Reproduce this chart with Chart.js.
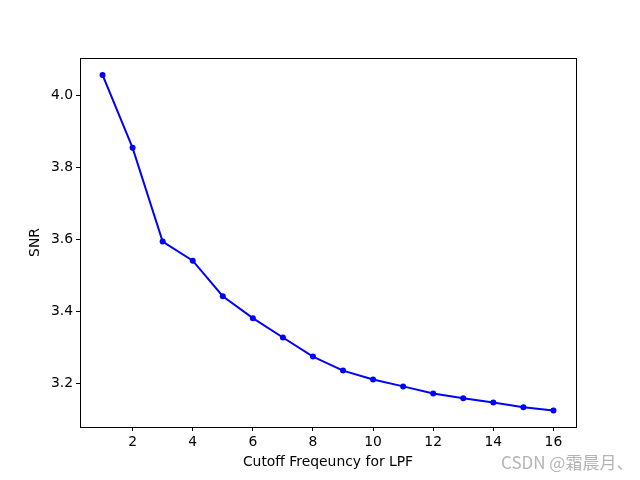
<!DOCTYPE html>
<html>
<head>
<meta charset="utf-8">
<script src="https://cdn.jsdelivr.net/npm/chart.js@4"></script>
<style>
  body { margin: 0; background: #fff; }
  #wrap { position: relative; width: 640px; height: 480px; }
  #mark { position: absolute; left: 501px; top: 449px; font: 17px "Noto Sans CJK SC", "DejaVu Sans", sans-serif; color: #b4b4b4; white-space: nowrap; }
</style>
</head>
<body>
<div id="wrap">
  <canvas id="snrChart" width="640" height="480"></canvas>
  <div id="mark">CSDN @霜晨月、</div>
</div>
<script>
  // cutoff frequency and SNR values
  const cutoff = [1, 2, 3, 4, 5, 6, 7, 8, 9, 10, 11, 12, 13, 14, 15, 16];
  const snr = [4.058, 3.855, 3.594, 3.541, 3.442, 3.381, 3.327, 3.274, 3.235, 3.210, 3.191, 3.171, 3.158, 3.146, 3.133, 3.124];
  const xTicks = [2, 4, 6, 8, 10, 12, 14, 16];
  const yTicks = [3.2, 3.4, 3.6, 3.8, 4.0];

  Chart.defaults.font.family = '"DejaVu Sans", sans-serif';
  Chart.defaults.font.size = 13.9;
  Chart.defaults.color = '#000';

  // matplotlib style box around the axes
  const frame = {
      id: 'frame',
      afterDraw(chart) {
          const a = chart.chartArea;
          const ctx = chart.ctx;
          ctx.save();
          ctx.strokeStyle = '#000';
          ctx.lineWidth = 1;
          ctx.strokeRect(Math.round(a.left) + 0.5, Math.round(a.top) + 0.5, Math.round(a.right - a.left), Math.round(a.bottom - a.top));
          ctx.restore();
      }
  };

  const ctx = document.getElementById('snrChart').getContext('2d');
  const snrChart = new Chart(ctx, {
      type: 'line',
      data: {
          datasets: [{
              label: 'SNR',
              data: cutoff.map((c, i) => ({ x: c, y: snr[i] })),
              borderColor: '#0000ff',
              backgroundColor: '#0000ff',
              borderWidth: 2,
              pointRadius: 3,
              pointBorderWidth: 0,
              tension: 0
          }]
      },
      options: {
          responsive: false,
          animation: false,
          layout: { padding: { left: 0, top: 58, right: 64, bottom: 0 } },
          plugins: { legend: { display: false }, tooltip: { enabled: false } },
          scales: {
              x: {
                  type: 'linear',
                  min: 0.25,
                  max: 16.75,
                  afterBuildTicks: s => { s.ticks = xTicks.map(v => ({ value: v })); },
                  afterFit: s => { s.height = 53; },
                  grid: { drawOnChartArea: false, color: '#000', tickLength: 4 },
                  border: { color: '#000' },
                  ticks: { padding: 3, maxRotation: 0 },
                  title: { display: true, text: 'Cutoff Freqeuncy for LPF', padding: { top: 0, bottom: 9 } }
              },
              y: {
                  min: 3.078,
                  max: 4.105,
                  afterBuildTicks: s => { s.ticks = yTicks.map(v => ({ value: v })); },
                  afterFit: s => { s.width = 80; },
                  grid: { drawOnChartArea: false, color: '#000', tickLength: 4 },
                  border: { color: '#000' },
                  ticks: { padding: 3, callback: v => v.toFixed(1) },
                  title: { display: true, text: 'SNR', padding: { top: 27, bottom: 0 } }
              }
          }
      },
      plugins: [frame]
  });
</script>
</body>
</html>
